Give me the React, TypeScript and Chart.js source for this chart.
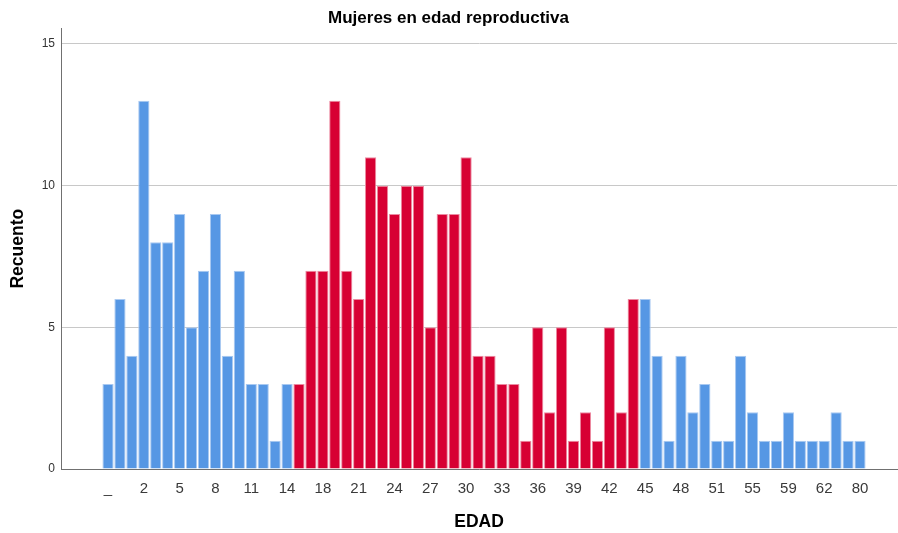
import React, { useEffect, useRef } from "react";
import { Chart, registerables } from "chart.js";

Chart.register(...registerables);

const title = "Mujeres en edad reproductiva";
const xTitle = "EDAD";
const yTitle = "Recuento";

// Age categories (first = missing "_")
const agesBefore = ["_", "0", "1", "2", "3", "4", "5", "6", "7", "8", "9", "10", "11", "12", "13", "14"];
const agesReproductive = ["15", "16", "18", "19", "20", "21", "22", "23", "24", "25", "26", "27", "28", "29", "30", "31", "32", "33", "34", "35", "36", "37", "38", "39", "40", "41", "42", "43", "44"];
const agesAfter = ["45", "46", "47", "48", "49", "50", "51", "52", "53", "55", "56", "57", "59", "60", "61", "62", "65", "70", "80"];

const countsBefore = [3, 6, 4, 13, 8, 8, 9, 5, 7, 9, 4, 7, 3, 3, 1, 3];
const countsReproductive = [3, 7, 7, 13, 7, 6, 11, 10, 9, 10, 10, 5, 9, 9, 11, 4, 4, 3, 3, 1, 5, 2, 5, 1, 2, 1, 5, 2, 6];
const countsAfter = [6, 4, 1, 4, 2, 3, 1, 1, 4, 2, 1, 1, 2, 1, 1, 1, 2, 1, 1];

const yTicks = [0, 5, 10, 15];

const BLUE = "#5697E4";
const BLUE_EDGE = "#a9c9f1";
const RED = "#D70033";
const RED_EDGE = "#ec8aa1";

export default function App() {
  const ref = useRef<HTMLCanvasElement | null>(null);

  useEffect(() => {
    const labels = [...agesBefore, ...agesReproductive, ...agesAfter];
    const counts = [...countsBefore, ...countsReproductive, ...countsAfter];
    const isRepro = labels.map((_, i) => i >= agesBefore.length && i < agesBefore.length + agesReproductive.length);
    const data = counts.map((v, i) => ({ x: i, y: v }));
    const n = labels.length;
    const tickIdx: number[] = [];
    for (let i = 0; i < n; i += 3) tickIdx.push(i);

    const chart = new Chart(ref.current as HTMLCanvasElement, {
      type: "bar",
      data: {
        datasets: [
          {
            data: data as any,
            backgroundColor: isRepro.map((r) => (r ? RED : BLUE)),
            borderColor: isRepro.map((r) => (r ? RED_EDGE : BLUE_EDGE)),
            borderWidth: 1,
            barPercentage: 0.94,
            categoryPercentage: 1,
          },
        ],
      },
      options: {
        animation: false,
        responsive: false,
        maintainAspectRatio: false,
        layout: { padding: { left: 0, right: 1, top: 0, bottom: 0 } },
        plugins: {
          legend: { display: false },
          tooltip: { enabled: false },
          title: {
            display: true,
            text: title,
            color: "#000",
            font: { family: "'Liberation Sans', Arial, sans-serif", size: 17, weight: "bold" },
            padding: { top: 8, bottom: 0 },
          },
        },
        scales: {
          x: {
            type: "linear",
            offset: false,
            min: -3.94,
            max: n - 1 + 3.1,
            afterBuildTicks: (s: any) => {
              s.ticks = tickIdx.map((v) => ({ value: v }));
            },
            afterFit: (s: any) => {
              s.height = 64;
            },
            ticks: {
              autoSkip: false,
              maxRotation: 0,
              minRotation: 0,
              padding: 11,
              color: "#3a3a3a",
              font: { family: "'Liberation Sans', Arial, sans-serif", size: 15 },
              callback: (v: any) => labels[Math.round(Number(v))] ?? "",
            },
            grid: { display: false, drawTicks: false, offset: false },
            border: { display: true, color: "#707070", width: 1 },
            title: {
              display: true,
              text: xTitle,
              color: "#000",
              font: { family: "'Liberation Sans', Arial, sans-serif", size: 17.5, weight: "bold" },
              padding: { top: 0, bottom: 0.5 },
            },
          },
          y: {
            min: 0,
            max: 15.55,
            afterBuildTicks: (s: any) => {
              s.ticks = yTicks.map((v) => ({ value: v }));
            },
            afterFit: (s: any) => {
              s.width = 61;
            },
            ticks: {
              padding: 6,
              color: "#333",
              font: { family: "'Liberation Sans', Arial, sans-serif", size: 12 },
            },
            grid: { color: "#c8c8c8", drawTicks: false, lineWidth: 1 },
            border: { display: true, color: "#707070", width: 1 },
            title: {
              display: true,
              text: yTitle,
              color: "#000",
              font: { family: "'Liberation Sans', Arial, sans-serif", size: 17.5, weight: "bold" },
              padding: { top: 7.5, bottom: 0 },
            },
          },
        },
      },
    });
    return () => chart.destroy();
  }, []);

  return (
    <div style={{ position: "fixed", left: 0, top: 0, width: 898, height: 533, background: "#fff" }}>
      <canvas ref={ref} width={898} height={533} style={{ display: "block", width: 898, height: 533 }} />
    </div>
  );
}
